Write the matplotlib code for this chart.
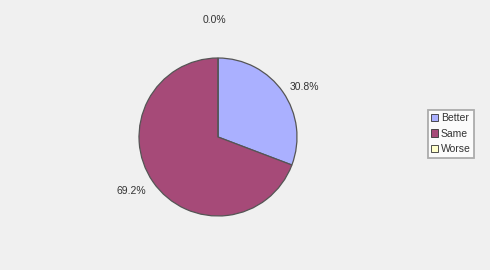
import matplotlib.pyplot as plt

labels = ['Better', 'Same', 'Worse']
counts = [4, 9, 0]
colors = ['#aab0ff', '#a64a78', '#ffffcc']
# label positions around the pie, in units of the radius
label_pos = [(1.10, 0.63), (-1.10, -0.68), (-0.04, 1.48)]

plt.rcParams['font.family'] = ['Liberation Sans', 'DejaVu Sans']

fig = plt.figure(figsize=(4.9, 2.7), dpi=100)
fig.patch.set_facecolor('#f0f0f0')
ax = fig.add_axes([0.2837, 0.2, 0.3224, 0.5852])
ax.set_facecolor('#f0f0f0')

wedges, texts, autotexts = ax.pie(
    counts, colors=colors, startangle=90, counterclock=False,
    autopct='%1.1f%%', pctdistance=1.29,
    wedgeprops=dict(edgecolor='#555555', linewidth=0.9),
    textprops=dict(fontsize=7.5, color='#333333'))
for t, pos in zip(autotexts, label_pos):
    t.set_position(pos)
ax.set_aspect('equal')
ax.set_xlim(-1, 1)
ax.set_ylim(-1, 1)

leg = fig.legend(wedges, labels, loc='upper left', bbox_to_anchor=(0.873, 0.593),
                 fontsize=7.5, frameon=True, fancybox=False, handlelength=0.7,
                 handleheight=0.7, handletextpad=0.25, borderpad=0.3,
                 labelspacing=0.55, borderaxespad=0)
leg.get_frame().set_edgecolor('#999999')
leg.get_frame().set_facecolor('#ffffff')
leg.get_frame().set_linewidth(1.3)
for h in leg.legend_handles:
    h.set_edgecolor('#333333')
    h.set_linewidth(0.6)
for t in leg.get_texts():
    t.set_color('#333333')

fig.savefig('out.png', dpi=100, facecolor=fig.get_facecolor())
